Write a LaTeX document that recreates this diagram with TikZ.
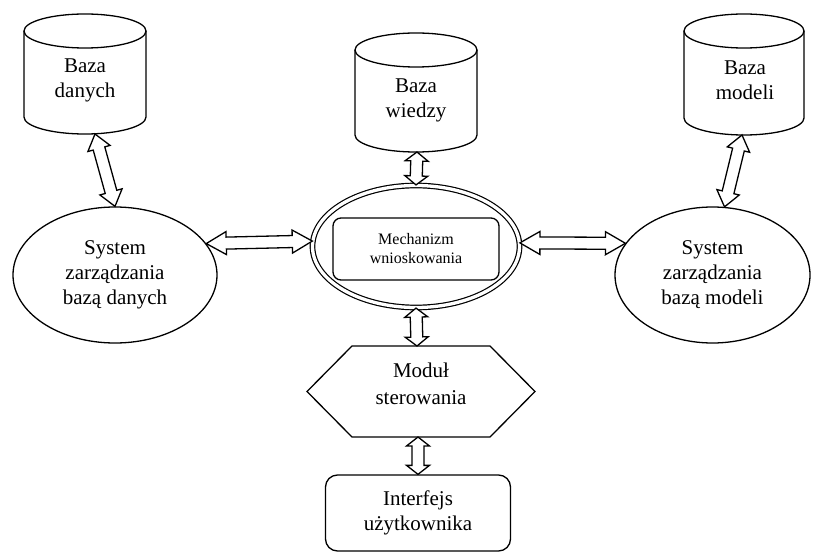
\documentclass[tikz,border=0pt]{standalone}
\usepackage{fontspec}
\setmainfont{Liberation Serif}
\usetikzlibrary{calc,shapes.geometric}

% cylinder: cx, top-centre y, bottom-centre y, rx, ry
\newcommand\cylshape[5]{%
  \draw[shp] (#1,#2) ellipse [x radius=#4pt, y radius=#5pt];
  \draw[shp] ({#1-#4},#2) -- ({#1-#4},#3)
    .. controls ({#1-#4},{#3+0.5523*#5}) and ({#1-0.5523*#4},{#3+#5}) .. (#1,{#3+#5})
    .. controls ({#1+0.5523*#4},{#3+#5}) and ({#1+#4},{#3+0.5523*#5}) .. ({#1+#4},#3)
    -- ({#1+#4},#2);}

% hollow two-headed block arrow from #2 to #3, head length #1
\newcommand\dblarrow[3][10]{%
  \draw[barrow] (#2)
   -- ($(#2)!#1pt!(#3)!11.5pt!90:(#3)$)
   -- ($(#2)!#1pt!(#3)!6pt!90:(#3)$)
   -- ($(#3)!#1pt!(#2)!6pt!-90:(#2)$)
   -- ($(#3)!#1pt!(#2)!11.5pt!-90:(#2)$)
   -- (#3)
   -- ($(#3)!#1pt!(#2)!11.5pt!90:(#2)$)
   -- ($(#3)!#1pt!(#2)!6pt!90:(#2)$)
   -- ($(#2)!#1pt!(#3)!6pt!-90:(#3)$)
   -- ($(#2)!#1pt!(#3)!11.5pt!-90:(#3)$)
   -- cycle;}

\begin{document}
\begin{tikzpicture}[x=1pt,y=-1pt,
  shp/.style={draw, line width=1.3pt},
  txt/.style={align=center, font=\fontsize{21}{25}\selectfont, inner sep=0pt},
  small/.style={align=center, font=\fontsize{16}{19}\selectfont, inner sep=0pt},
  barrow/.style={draw, fill=white, line width=1.3pt, line join=miter},
  oval/.style={ellipse, draw, line width=1.3pt, inner sep=0pt}]
\useasboundingbox (0,0) rectangle (813,553);

% databases
\cylshape{85}{31}{117}{61}{17}
\node[txt] (bd) at (85,80) {Baza\\danych};
\coordinate (bdS) at (95,134);

\cylshape{416}{50}{135}{61}{17}
\node[txt] (bw) at (416,100) {Baza\\wiedzy};
\coordinate (bwS) at (417,152);

\cylshape{744}{31}{118}{60}{17}
\node[txt] (bm) at (745,80) {Baza\\modeli};
\coordinate (bmS) at (742,135);

% management systems
\node[oval, txt, minimum width=204pt, minimum height=136pt] (szd) at (115,275)
  {System\\zarządzania\\bazą danych};
\node[oval, txt, minimum width=195pt, minimum height=136pt] (szm) at (712.5,275)
  {System\\zarządzania\\bazą modeli};

% inference engine
\node[ellipse, draw, double, double distance=3.3pt, line width=1.2pt,
      minimum width=207pt, minimum height=122pt] (me) at (416,246.5) {};
\node[draw, line width=1.3pt, rounded corners=8pt, minimum width=166pt,
      minimum height=62pt, small] (mw) at (416,249) {Mechanizm\\wnioskowania};

% control module
\draw[shp] (307,391.5) -- (352,346) -- (490,346) -- (535,391.5)
  -- (490,437) -- (352,437) -- cycle;
\node[txt] (ms) at (421,384) {Moduł\\[2pt]sterowania};
\coordinate (msN) at (417,346);
\coordinate (msS) at (418,437);

% user interface
\node[draw, line width=1.3pt, rounded corners=12pt, minimum width=185pt,
      minimum height=76pt, txt] (ui) at (418,513) {Interfejs\\użytkownika};

% connectors
\dblarrow[15]{bdS}{szd.north}
\dblarrow[15]{bmS}{szm.80}
\dblarrow[9]{bwS}{me.north}
\dblarrow[9]{me.south}{msN}
\dblarrow[9]{msS}{ui.north}
\dblarrow[20]{szd.19}{me.177.6}
\dblarrow[20]{me.2.4}{szm.160}
\end{tikzpicture}
\end{document}
